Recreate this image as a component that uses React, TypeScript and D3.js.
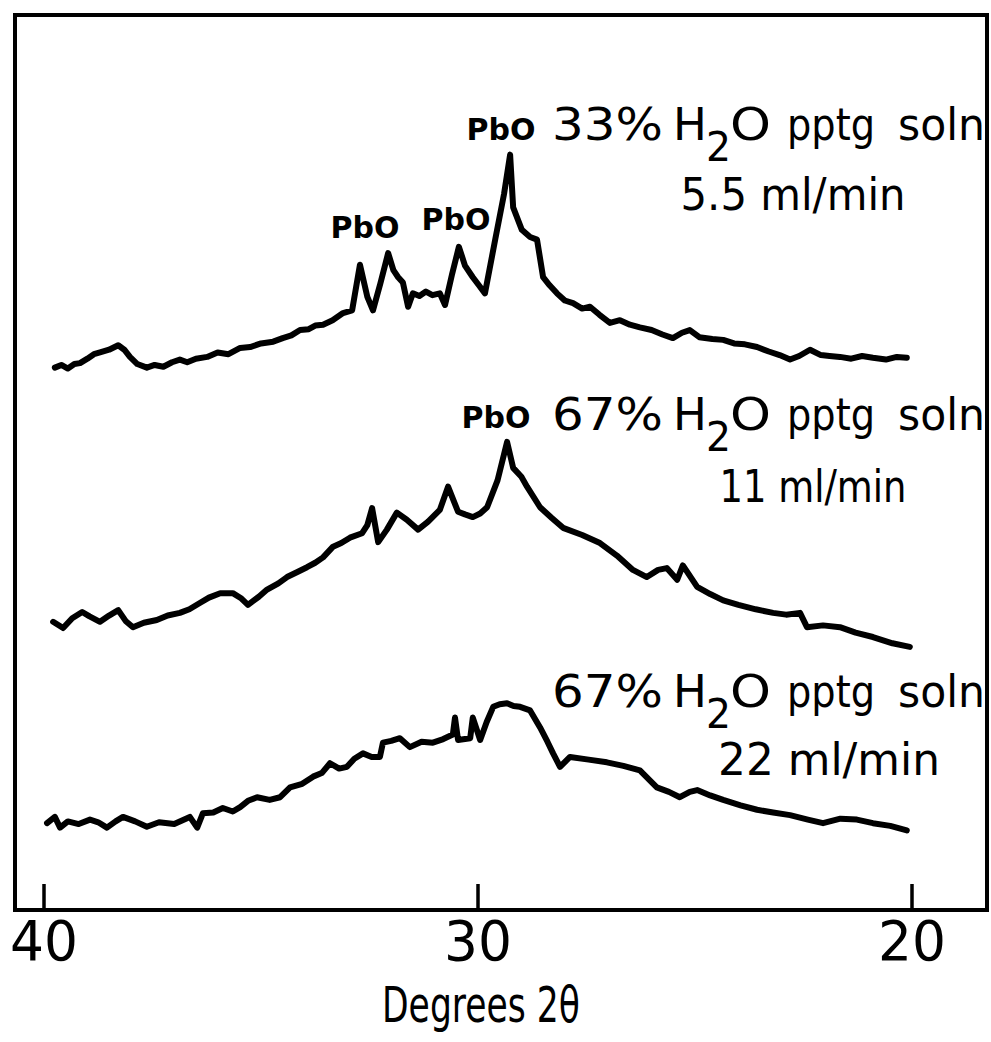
import React from "react";
import * as d3 from "d3";

const W = 991;
const H = 1042;

// x: degrees 2θ, y: relative intensity (arbitrary units)
const xTicks = [40, 30, 20];

const series33_55: [number, number][] = [
  [39.75, 60.6], [39.6, 60.9], [39.45, 60.5], [39.3, 61.0], [39.17, 61.1], [39.0, 61.6], [38.85, 62.1],
  [38.71, 62.3], [38.5, 62.6], [38.29, 63.1], [38.15, 62.6], [38.02, 61.8], [37.85, 61.0], [37.63, 60.6],
  [37.45, 60.9], [37.25, 60.7], [37.05, 61.2], [36.87, 61.5], [36.7, 61.2], [36.5, 61.6], [36.24, 61.8],
  [36.0, 62.3], [35.75, 62.1], [35.48, 62.8], [35.25, 62.9], [35.0, 63.3], [34.72, 63.5], [34.5, 63.9],
  [34.3, 64.2], [34.1, 64.8], [33.9, 64.9], [33.75, 65.3], [33.57, 65.4], [33.35, 65.9], [33.11, 66.7],
  [32.9, 67.0], [32.72, 72.1], [32.55, 68.5], [32.42, 67.0], [32.25, 70.0], [32.07, 73.4], [31.95, 71.5],
  [31.84, 70.7], [31.73, 70.1], [31.61, 67.4], [31.5, 68.9], [31.35, 68.6], [31.2, 69.1], [31.05, 68.7],
  [30.88, 68.9], [30.76, 67.6], [30.6, 71.0], [30.44, 74.1], [30.3, 72.0], [30.12, 70.7], [29.98, 69.8],
  [29.84, 68.9], [29.6, 75.0], [29.4, 80.0], [29.26, 84.4], [29.19, 78.5], [28.99, 76.0], [28.8, 75.2],
  [28.64, 74.9], [28.5, 70.7], [28.35, 69.8], [28.18, 68.9], [28.0, 68.1], [27.81, 67.8], [27.6, 67.2],
  [27.42, 67.4], [27.2, 66.5], [26.96, 65.6], [26.73, 65.9], [26.5, 65.4], [26.27, 65.1], [26.0, 64.8],
  [25.75, 64.3], [25.51, 63.9], [25.3, 64.5], [25.12, 64.8], [24.9, 64.0], [24.6, 63.8], [24.35, 63.7],
  [24.1, 63.3], [23.85, 63.2], [23.57, 62.9], [23.3, 62.4], [23.05, 62.0], [22.81, 61.5], [22.6, 61.9],
  [22.35, 62.6], [22.1, 62.0], [21.9, 61.9], [21.66, 61.8], [21.4, 61.6], [21.15, 61.9], [20.9, 61.7],
  [20.6, 61.5], [20.35, 61.8], [20.12, 61.7],
];

const series67_11: [number, number][] = [
  [39.79, 32.2], [39.56, 31.5], [39.35, 32.6], [39.12, 33.3], [38.95, 32.8], [38.71, 32.2], [38.5, 32.9],
  [38.29, 33.5], [38.12, 32.3], [37.95, 31.6], [37.7, 32.1], [37.4, 32.4], [37.15, 32.9], [36.87, 33.2],
  [36.65, 33.6], [36.41, 34.3], [36.2, 34.9], [35.94, 35.4], [35.65, 35.4], [35.45, 34.8], [35.3, 34.1],
  [35.05, 35.0], [34.86, 35.8], [34.6, 36.5], [34.4, 37.2], [34.15, 37.8], [33.94, 38.3], [33.75, 38.8],
  [33.57, 39.4], [33.34, 40.6], [33.15, 41.0], [32.95, 41.6], [32.67, 42.1], [32.55, 43.0], [32.44, 44.9],
  [32.3, 41.1], [32.1, 42.5], [31.87, 44.4], [31.64, 43.6], [31.38, 42.5], [31.15, 43.4], [30.88, 44.7],
  [30.69, 47.3], [30.46, 44.5], [30.3, 44.2], [30.12, 43.9], [29.95, 44.3], [29.79, 45.0], [29.55, 48.0],
  [29.33, 52.3], [29.19, 49.4], [29.0, 48.4], [28.87, 47.3], [28.57, 45.0], [28.3, 43.8], [28.04, 42.7],
  [27.6, 41.9], [27.19, 41.0], [26.8, 39.6], [26.43, 38.0], [26.11, 37.2], [25.85, 38.0], [25.65, 38.2],
  [25.41, 36.9], [25.28, 38.5], [24.95, 36.1], [24.65, 35.3], [24.35, 34.6], [24.0, 34.1], [23.6, 33.6],
  [23.2, 33.2], [22.9, 33.0], [22.58, 33.2], [22.42, 31.6], [22.05, 31.8], [21.66, 31.6], [21.3, 31.0],
  [20.9, 30.5], [20.45, 29.8], [20.05, 29.4],
];

const series67_22: [number, number][] = [
  [39.93, 9.7], [39.75, 10.4], [39.63, 9.2], [39.45, 9.9], [39.2, 9.6], [38.94, 10.1], [38.75, 9.8],
  [38.55, 9.2], [38.35, 9.9], [38.18, 10.4], [37.9, 9.9], [37.63, 9.3], [37.35, 9.8], [37.0, 9.6],
  [36.64, 10.4], [36.47, 9.2], [36.34, 10.8], [36.1, 10.9], [35.88, 11.4], [35.65, 11.0], [35.48, 11.5],
  [35.3, 12.2], [35.09, 12.6], [34.8, 12.3], [34.56, 12.6], [34.33, 13.7], [34.05, 14.1], [33.8, 14.9],
  [33.6, 15.3], [33.41, 16.4], [33.2, 15.8], [33.02, 16.0], [32.85, 16.9], [32.65, 17.5], [32.45, 17.1],
  [32.26, 17.1], [32.19, 18.7], [32.0, 18.9], [31.8, 19.2], [31.57, 18.2], [31.3, 18.8], [31.04, 18.7],
  [30.8, 19.1], [30.58, 19.6], [30.53, 21.5], [30.46, 19.0], [30.18, 19.2], [30.12, 21.5], [29.95, 19.0],
  [29.8, 21.0], [29.65, 22.7], [29.5, 23.0], [29.33, 23.1], [29.18, 22.8], [29.03, 22.7], [28.8, 22.3],
  [28.57, 20.4], [28.4, 18.8], [28.27, 17.5], [28.11, 16.0], [27.88, 17.1], [27.45, 16.8], [27.03, 16.5],
  [26.65, 16.1], [26.27, 15.6], [25.88, 13.7], [25.6, 13.2], [25.35, 12.6], [25.12, 13.2], [24.95, 13.4],
  [24.65, 12.8], [24.35, 12.3], [23.95, 11.7], [23.57, 11.2], [23.2, 10.9], [22.81, 10.6], [22.4, 10.1],
  [22.05, 9.7], [21.65, 10.2], [21.27, 10.1], [20.9, 9.7], [20.5, 9.4], [20.12, 8.9],
];

const allSeries = [series33_55, series67_11, series67_22];

const conditionLabels = [
  { pct: "67%", rate: "22 ml/min", base: 707, rateX: 829, rateBase: 775, rateW: 222 },
  { pct: "67%", rate: "11 ml/min", base: 430, rateX: 813, rateBase: 502, rateW: 187 },
  { pct: "33%", rate: "5.5 ml/min", base: 140, rateX: 793, rateBase: 210, rateW: 225 },
];

export default function App() {
  const x = d3.scaleLinear().domain([40, 20]).range([44, 912]);
  const y = d3.scaleLinear().domain([0, 100]).range([910, 15]);
  const line = d3
    .line<[number, number]>()
    .x((d) => x(d[0]))
    .y((d) => y(d[1]));

  const font = "'DejaVu Sans', 'Liberation Sans', sans-serif";
  const small = { fontFamily: font, fontSize: 30, fontWeight: 700 as const };
  const big = { fontFamily: font, fontSize: 45 };

  return (
    <svg width={W} height={H} style={{ position: "absolute", left: 0, top: 0, background: "#fff" }}>
      <rect x={15} y={15} width={972} height={895} fill="none" stroke="#000" strokeWidth={4} />
      {xTicks.map((t) => (
        <g key={t}>
          <line x1={x(t)} x2={x(t)} y1={910} y2={884} stroke="#000" strokeWidth={3.5} />
          <text x={x(t)} y={960} textAnchor="middle" fontFamily={font} fontSize={56} textLength={68} lengthAdjust="spacingAndGlyphs">
            {t}
          </text>
        </g>
      ))}
      <text x={481} y={1022} textAnchor="middle" fontFamily={font} fontSize={50} textLength={198} lengthAdjust="spacingAndGlyphs">
        Degrees 2θ
      </text>
      {allSeries.map((s, i) => (
        <path key={i} d={line(s) || ""} fill="none" stroke="#000" strokeWidth={6} strokeLinejoin="round" strokeLinecap="round" />
      ))}
      <text x={365} y={238} textAnchor="middle" {...small}>PbO</text>
      <text x={456} y={230} textAnchor="middle" {...small}>PbO</text>
      <text x={501} y={140} textAnchor="middle" {...small}>PbO</text>
      <text x={496} y={428} textAnchor="middle" {...small}>PbO</text>
      {conditionLabels.map((c, i) => (
        <g key={i}>
          <text x={552} y={c.base} {...big} textLength={111} lengthAdjust="spacingAndGlyphs">{c.pct}</text>
          <text x={673} y={c.base} {...big}>H</text>
          <text x={706} y={c.base + 21} {...big} fontSize={40} textLength={25} lengthAdjust="spacingAndGlyphs">2</text>
          <text x={730} y={c.base} {...big} textLength={41} lengthAdjust="spacingAndGlyphs">O</text>
          <text x={787} y={c.base} {...big} textLength={88} lengthAdjust="spacingAndGlyphs">pptg</text>
          <text x={898} y={c.base} {...big} textLength={87} lengthAdjust="spacingAndGlyphs">soln</text>
          <text x={c.rateX} y={c.rateBase} textAnchor="middle" {...big} textLength={c.rateW} lengthAdjust="spacingAndGlyphs">
            {c.rate}
          </text>
        </g>
      ))}
    </svg>
  );
}
